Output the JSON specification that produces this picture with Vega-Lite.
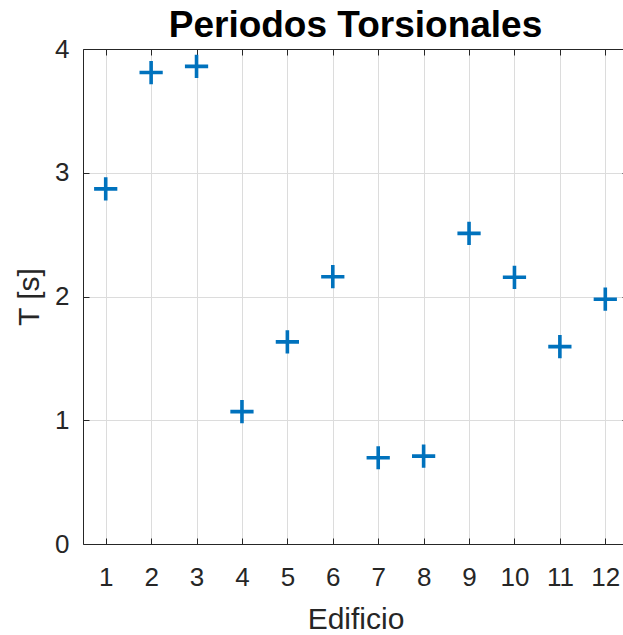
{
  "$schema": "https://vega.github.io/schema/vega-lite/v6.json",
  "autosize": {"type": "none"},
  "padding": {"left": 83, "top": 49, "right": 0, "bottom": 91},
  "width": 545,
  "height": 495,
  "background": "white",
  "config": {
    "font": "Liberation Sans",
    "view": {"stroke": null},
    "axis": {
      "domainColor": "#262626",
      "domainWidth": 1,
      "tickColor": "#262626",
      "tickSize": -6,
      "tickWidth": 1,
      "gridColor": "#dcdcdc",
      "gridWidth": 1,
      "labelColor": "#262626",
      "labelFont": "Liberation Sans",
      "labelFontSize": 26,
      "titleColor": "#262626",
      "titleFont": "Liberation Sans",
      "titleFontSize": 30,
      "titleFontWeight": "normal"
    }
  },
  "title": {
    "text": "Periodos Torsionales",
    "font": "Liberation Sans",
    "fontSize": 37,
    "fontWeight": "bold",
    "color": "black",
    "anchor": "middle",
    "offset": 10,
    "dy": 19
  },
  "data": {
    "values": [
      {"edificio": 1, "T": 2.87},
      {"edificio": 2, "T": 3.81},
      {"edificio": 3, "T": 3.86},
      {"edificio": 4, "T": 1.07},
      {"edificio": 5, "T": 1.633},
      {"edificio": 6, "T": 2.16},
      {"edificio": 7, "T": 0.697},
      {"edificio": 8, "T": 0.71},
      {"edificio": 9, "T": 2.51},
      {"edificio": 10, "T": 2.155},
      {"edificio": 11, "T": 1.595},
      {"edificio": 12, "T": 1.978}
    ]
  },
  "encoding": {
    "x": {
      "field": "edificio",
      "type": "quantitative",
      "scale": {"domain": [0.5, 12.5], "nice": false, "zero": false}
    },
    "y": {
      "field": "T",
      "type": "quantitative",
      "scale": {"domain": [0, 4], "nice": false}
    }
  },
  "layer": [
    {
      "mark": {
        "type": "point",
        "shape": "M-1,0H1M0,-1V1",
        "filled": false,
        "size": 540,
        "strokeWidth": 3.6,
        "color": "#0072BD",
        "opacity": 1
      },
      "encoding": {
        "x": {
          "field": "edificio",
          "type": "quantitative",
          "title": "Edificio",
          "axis": {
            "values": [1, 2, 3, 4, 5, 6, 7, 8, 9, 10, 11, 12],
            "labelPadding": 26,
            "titlePadding": 14,
            "grid": true
          }
        },
        "y": {
          "field": "T",
          "type": "quantitative",
          "title": "T [s]",
          "axis": {
            "values": [0, 1, 2, 3, 4],
            "labelPadding": 20,
            "titlePadding": 10,
            "grid": true
          }
        }
      }
    },
    {
      "mark": {"type": "point", "opacity": 0},
      "encoding": {
        "x": {
          "field": "edificio",
          "type": "quantitative",
          "axis": {
            "orient": "top",
            "values": [1, 2, 3, 4, 5, 6, 7, 8, 9, 10, 11, 12],
            "labels": false,
            "title": null,
            "grid": false
          }
        },
        "y": {
          "field": "T",
          "type": "quantitative",
          "axis": {
            "orient": "right",
            "values": [0, 1, 2, 3, 4],
            "labels": false,
            "title": null,
            "grid": false
          }
        }
      }
    }
  ],
  "resolve": {"axis": {"x": "independent", "y": "independent"}}
}
